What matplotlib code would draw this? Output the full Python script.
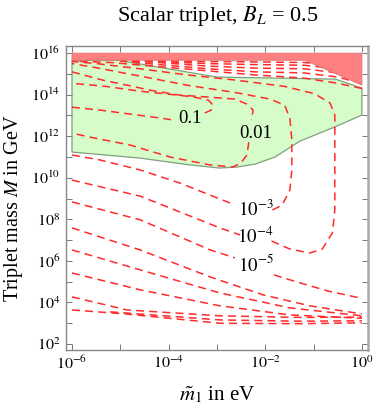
import matplotlib
matplotlib.use('Agg')
import matplotlib.pyplot as plt
import numpy as np

plt.rcParams['font.family'] = 'Liberation Serif'
plt.rcParams['mathtext.fontset'] = 'stix'

# everything below is log10 values (x = log10 m1/eV, y = log10 M/GeV)

# excluded region (red) and allowed region (green)
red_x = [-6.0, 0.0, 0.0, -1.18, -6.0]
red_y = [16.0, 16.0, 14.46, 15.66, 15.66]

green_x = [-6.0, -5.05, -3.0, -0.55, 0.0, 0.0, -0.56, -1.28, -1.80, -2.21, -2.58, -2.94, -3.56, -4.59, -6.0]
green_y = [15.66, 15.66, 14.85, 14.75, 14.32, 13.02, 12.45, 11.77, 11.0, 10.66, 10.52, 10.47, 10.62, 10.95, 11.24]

# contour lines, each level split where the label sits
c01_x = [[-6.0, -5.42, -4.80, -4.18, -3.90],
         [-3.25, -3.12, -3.08, -3.18, -3.50, -4.30, -4.59, -5.30, -6.0]]
c01_y = [[13.40, 13.26, 13.07, 12.88, 12.78],
         [13.12, 13.26, 13.50, 13.74, 13.90, 14.10, 14.17, 14.40, 14.55]]

c001_x = [[-6.0, -5.36, -4.86, -4.39, -3.77, -3.14, -2.63, -2.38, -2.25, -2.29],
          [-2.34, -2.38, -2.50, -2.67, -3.14, -3.97, -4.80, -5.63, -6.0]]
c001_y = [[15.10, 14.70, 14.46, 14.22, 13.98, 13.88, 13.79, 13.55, 13.26, 12.78],
          [11.72, 11.10, 10.72, 10.52, 10.62, 11.00, 11.58, 11.96, 12.15]]

c1e3_x = [[-6.0, -5.42, -4.59, -3.77, -2.73],
          [-1.85, -1.65, -1.49, -1.45, -1.45, -1.49, -1.60, -1.90, -2.6, -3.6, -4.6, -5.5, -6.0]]
c1e3_y = [[11.10, 10.86, 10.38, 9.75, 8.79],
          [8.45, 8.69, 9.41, 10.38, 11.82, 12.87, 13.50, 13.79, 14.10, 14.45, 14.90, 15.30, 15.50]]

c1e4_x = [[-6.0, -4.59, -2.94, -2.52],
          [-1.87, -1.49, -1.08, -0.82, -0.61, -0.56, -0.56, -0.56, -0.66, -0.98, -1.6, -2.6, -3.6, -4.6, -5.5, -6.0]]
c1e4_y = [[9.89, 9.12, 7.59, 7.25],
          [6.96, 6.57, 6.38, 6.57, 7.35, 8.45, 10.38, 13.02, 13.60, 14.05, 14.40, 14.70, 14.95, 15.25, 15.50, 15.60]]

c1e5_x = [[-6.0, -4.59, -3.14, -2.63],
          [-1.82, -1.49, -1.10, -0.70, 0.0],
          [0.0, -0.5, -1.2, -2.2, -3.2, -4.2, -5.2, -6.0]]
c1e5_y = [[8.84, 7.98, 6.53, 6.15],
          [5.33, 5.09, 4.82, 4.55, 4.20],
          [14.30, 14.55, 14.80, 14.95, 15.15, 15.35, 15.55, 15.62]]

# lower levels 1e-6 ... and the pair at the bottom
low_x = [[-6.0, -4.59, -3.14, -2.05, -1.08, 0.0],
         [-6.0, -4.59, -2.94, -1.49, 0.0],
         [-6.0, -4.59, -2.94, -1.49, 0.0],
         [-6.0, -4.86, -2.94, -1.28, 0.0],
         [-5.21, -2.94, -1.28, 0.0],
         [-6.0, -4.90, -2.94, -1.28, 0.0]]
low_y = [[7.59, 6.53, 5.23, 4.37, 3.84, 3.45],
         [6.53, 5.57, 4.46, 3.74, 3.36],
         [5.42, 4.61, 3.84, 3.40, 3.24],
         [4.27, 3.64, 3.36, 3.28, 3.30],
         [3.55, 3.16, 3.10, 3.12],
         [3.64, 3.45, 3.00, 2.98, 3.02]]

top_x = [[0.0, -0.5, -1.2, -2.2, -3.2, -4.2, -5.0],
         [0.0, -0.5, -1.2, -2.2, -3.2, -4.2, -5.0],
         [0.0, -0.5, -1.2, -2.2, -3.2, -4.2, -5.0],
         [0.0, -0.5, -1.2, -2.2, -3.2, -4.2, -5.0]]
top_y = [[14.55, 14.85, 15.05, 15.10, 15.25, 15.45, 15.62],
         [14.75, 15.05, 15.25, 15.28, 15.38, 15.55, 15.64],
         [14.95, 15.25, 15.42, 15.45, 15.50, 15.60, 15.65],
         [15.10, 15.42, 15.55, 15.58, 15.60, 15.63, 15.65]]

labels = ['0.1', '0.01', '$10^{-3}$', '$10^{-4}$', '$10^{-5}$']
label_x = [-3.55, -2.20, -2.20, -2.20, -2.20]
label_y = [12.85, 12.15, 8.45, 7.15, 5.85]

fig = plt.figure(figsize=(3.75, 4.08), dpi=100)
ax = fig.add_axes([0.176, 0.142, 0.805, 0.745])

ax.fill(10 ** np.array(green_x), 10 ** np.array(green_y), facecolor='#d6fcc9',
        edgecolor='#7f9f7f', lw=0.9, zorder=1)
ax.fill(10 ** np.array(red_x), 10 ** np.array(red_y), facecolor='#ff8080',
        edgecolor='#e07070', lw=0.6, zorder=3)

dash_kw = dict(color='#ff2a2a', lw=1.1, dashes=(5.2, 3.4), zorder=2)
for xs_list, ys_list in [(c01_x, c01_y), (c001_x, c001_y), (c1e3_x, c1e3_y),
                         (c1e4_x, c1e4_y), (c1e5_x, c1e5_y), (low_x, low_y), (top_x, top_y)]:
    for xs, ys in zip(xs_list, ys_list):
        ax.plot(10 ** np.array(xs), 10 ** np.array(ys), **dash_kw)

for t, lx, ly in zip(labels, label_x, label_y):
    ax.text(10 ** lx, 10 ** ly, t, fontsize=13.5, ha='center', va='center', zorder=4)

ax.set_xscale('log')
ax.set_yscale('log')
ax.set_xlim(10 ** -6.124, 10 ** 0.124)
ax.set_ylim(10 ** 1.71, 10 ** 16.34)
ax.set_xticks([10.0 ** k for k in range(-6, 1)])
ax.set_xticklabels(['$10^{-6}$', '', '$10^{-4}$', '', '$10^{-2}$', '', '$10^{0}$'])
ax.set_yticks([10.0 ** k for k in range(2, 17)])
ax.set_yticklabels(['$10^{%d}$' % k if k % 2 == 0 else '' for k in range(2, 17)])
ax.minorticks_off()
ax.tick_params(direction='in', length=4, width=0.7, color='#777777', top=True, right=True,
               labelsize=11.5, pad=4)
for s in ax.spines.values():
    s.set_color('#888888')
    s.set_linewidth(1.0)
ax.spines['right'].set_linewidth(1.8)
ax.spines['right'].set_color('#aaaaaa')

ax.set_xlabel(r'$\tilde{m}_1$ in eV', fontsize=15, labelpad=8)
ax.set_ylabel(r'Triplet mass $M$ in GeV', fontsize=14.5)
ax.yaxis.set_label_coords(-0.135, 0.465)
fig.text(0.579, 0.962, r'Scalar triplet, $B_L$ = 0.5', fontsize=16, ha='center', va='center')

fig.savefig('out.png', dpi=100)
